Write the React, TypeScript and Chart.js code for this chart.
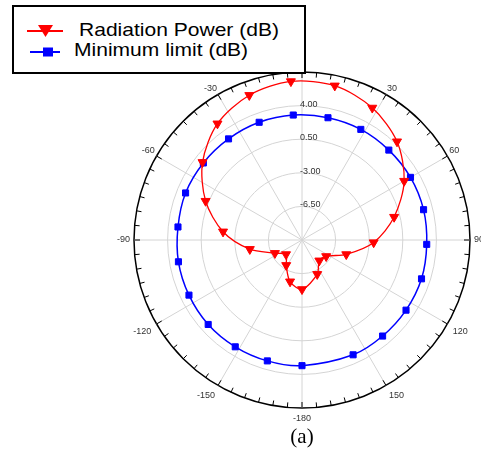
import React, { useEffect, useRef } from 'react';
import { Chart, registerables } from 'chart.js';

Chart.register(...registerables);

// Angles (degrees, clockwise from top) where the markers sit
const MARKER_ANGLES = [-4, 12, 28, 44, 60, 76, 92, 108, 124, 140, 156, 180, 196, 212, 228, 244, 260, 276, 292, 308, 324, 340];
// Radiation Power (dB)
const RADIATION_POWER = [6.56, 6.43, 5.59, 4.25, 2.29, -0.11, -2.53, -5.15, -6.96, -7.19, -6.1, -4.86, -5.49, -6.9, -7.76, -6.86, -4.48, -1.73, 0.83, 3.15, 4.98, 6.05];
// Minimum limit (dB)
const MINIMUM_LIMIT = [3.05, 3.02, 3.05, 3.02, 3.05, 3.05, 3.0, 3.09, 3.07, 3.06, 3.09, 3.09, 3.1, 3.12, 3.15, 3.1, 3.07, 2.99, 3.08, 3.04, 3.02, 3.05];

// Angular axis labels
const AXIS_ANGLES = [30, 60, 90, 120, 150, 180, 210, 240, 270, 300, 330];
const AXIS_LABELS = ['30', '60', '90', '120', '150', '-180', '-150', '-120', '-90', '-60', '-30'];
// Radial tick labels
const RADIAL_TICKS = [4.0, 0.5, -3.0, -6.5];
const RADIAL_TICK_LABELS = ['4.00', '0.50', '-3.00', '-6.50'];
const R_MIN = -10;
const R_MAX = 7.5;
const R_STEP = 3.5;

const LABELS = Array.from({ length: 360 }, (_, i) => String(i));

function toFull(values: number[]): (number | null)[] {
  const arr: (number | null)[] = new Array(360).fill(null);
  MARKER_ANGLES.forEach((a, i) => {
    arr[((a % 360) + 360) % 360] = values[i];
  });
  return arr;
}

const polarDecor = {
  id: 'polarDecor',
  beforeDatasetsDraw(chart: any) {
    const s = chart.scales.r;
    const ctx = chart.ctx;
    const R = s.drawingArea;
    ctx.save();
    // tick marks on the outer circle
    ctx.strokeStyle = '#000';
    ctx.lineWidth = 1;
    for (let a = 0; a < 360; a += 5) {
      const len = a % 30 === 0 ? 6 : 5;
      const p1 = s.getPointPosition(a, R);
      const p2 = s.getPointPosition(a, R - len);
      ctx.beginPath();
      ctx.moveTo(p1.x, p1.y);
      ctx.lineTo(p2.x, p2.y);
      ctx.stroke();
    }
    // angular labels
    ctx.font = '9px "Liberation Sans", Arial, sans-serif';
    ctx.fillStyle = '#333';
    AXIS_ANGLES.forEach((a, i) => {
      const top = a < 90 || a > 270;
      const side = a === 90 || a === 270;
      const p = s.getPointPosition(a % 360, R + (top ? 2 : side ? 4 : 6));
      ctx.textAlign = a === 180 ? 'center' : a < 180 ? 'left' : 'right';
      ctx.textBaseline = side ? 'middle' : top ? 'bottom' : 'top';
      ctx.fillText(AXIS_LABELS[i], p.x, p.y);
    });
    // radial labels
    ctx.textAlign = 'left';
    ctx.textBaseline = 'middle';
    RADIAL_TICKS.forEach((v, i) => {
      const d = s.getDistanceFromCenterForValue(v);
      ctx.fillText(RADIAL_TICK_LABELS[i], s.xCenter - 2, s.yCenter - d - 1.5);
    });
    ctx.restore();
  },
};

export default function App() {
  const ref = useRef<HTMLCanvasElement | null>(null);

  useEffect(() => {
    if (!ref.current) return;
    const chart = new Chart(ref.current, {
      type: 'radar',
      data: {
        labels: LABELS,
        datasets: [
          {
            label: 'Radiation Power (dB)',
            data: toFull(RADIATION_POWER),
            borderColor: '#ff0000',
            backgroundColor: '#ff0000',
            pointBackgroundColor: '#ff0000',
            pointBorderColor: '#ff0000',
            pointBorderWidth: 1,
            borderWidth: 1.3,
            pointStyle: 'triangle',
            rotation: 180,
            pointRadius: 5.2,
            fill: false,
            spanGaps: true,
            tension: 0.3,
          } as any,
          {
            label: 'Minimum limit (dB)',
            data: toFull(MINIMUM_LIMIT),
            borderColor: '#0000ff',
            backgroundColor: '#0000ff',
            pointBackgroundColor: '#0000ff',
            pointBorderColor: '#0000ff',
            pointBorderWidth: 1,
            borderWidth: 1.5,
            pointStyle: 'rect',
            pointRadius: 4.3,
            fill: false,
            spanGaps: true,
            tension: 0.3,
          } as any,
        ],
      },
      options: {
        responsive: false,
        animation: false,
        events: [],
        layout: { padding: { left: 134, right: 11, top: 72, bottom: 44 } },
        plugins: { legend: { display: false }, tooltip: { enabled: false } },
        scales: {
          r: {
            min: R_MIN,
            max: R_MAX,
            startAngle: 0,
            ticks: { stepSize: R_STEP, display: false },
            pointLabels: { display: false },
            grid: {
              circular: true,
              color: (c: any) => (c.index === 5 ? '#000000' : '#d4d4d4'),
              lineWidth: (c: any) => (c.index === 5 ? 1.5 : 1),
            },
            angleLines: {
              color: '#d4d4d4',
              lineWidth: (c: any) => (c.index % 30 === 0 ? 1 : 0),
            },
          } as any,
        },
      },
      plugins: [polarDecor],
    });
    return () => chart.destroy();
  }, []);

  const legendText: React.CSSProperties = {
    position: 'absolute',
    fontFamily: '"Liberation Sans", Arial, sans-serif',
    fontSize: '18.5px',
    lineHeight: '20px',
    color: '#000',
    whiteSpace: 'nowrap',
    transform: 'scaleX(1.137)',
    transformOrigin: 'left center',
  };

  return (
    <div style={{ position: 'absolute', left: 0, top: 0, width: 481, height: 452, background: '#fff', overflow: 'hidden' }}>
      <canvas ref={ref} width={481} height={452} style={{ position: 'absolute', left: 0, top: 0, display: 'block' }} />
      <div
        style={{
          position: 'absolute',
          left: 12,
          top: 5,
          width: 294,
          height: 69,
          border: '2px solid #000',
          boxSizing: 'border-box',
          background: '#fff',
        }}
      />
      <svg width={80} height={70} style={{ position: 'absolute', left: 0, top: 0 }}>
        <line x1={27} y1={31} x2={63} y2={31} stroke="#ff0000" strokeWidth={2} />
        <polygon points="38,25 53,25 45.5,37" fill="#ff0000" />
        <line x1={30} y1={52} x2={60} y2={52} stroke="#0000ff" strokeWidth={2} />
        <rect x={43} y={47.5} width={10} height={9} fill="#0000ff" />
      </svg>
      <div style={{ ...legendText, left: 79, top: 19.6 }}>Radiation Power (dB)</div>
      <div style={{ ...legendText, left: 74, top: 40.3 }}>Minimum limit (dB)</div>
      <div
        style={{
          position: 'absolute',
          left: 302,
          top: 426,
          transform: 'translateX(-50%)',
          fontFamily: '"Liberation Serif", "Times New Roman", serif',
          fontSize: '21px',
          lineHeight: '21px',
          color: '#000',
          whiteSpace: 'nowrap',
        }}
      >
        (a)
      </div>
    </div>
  );
}
